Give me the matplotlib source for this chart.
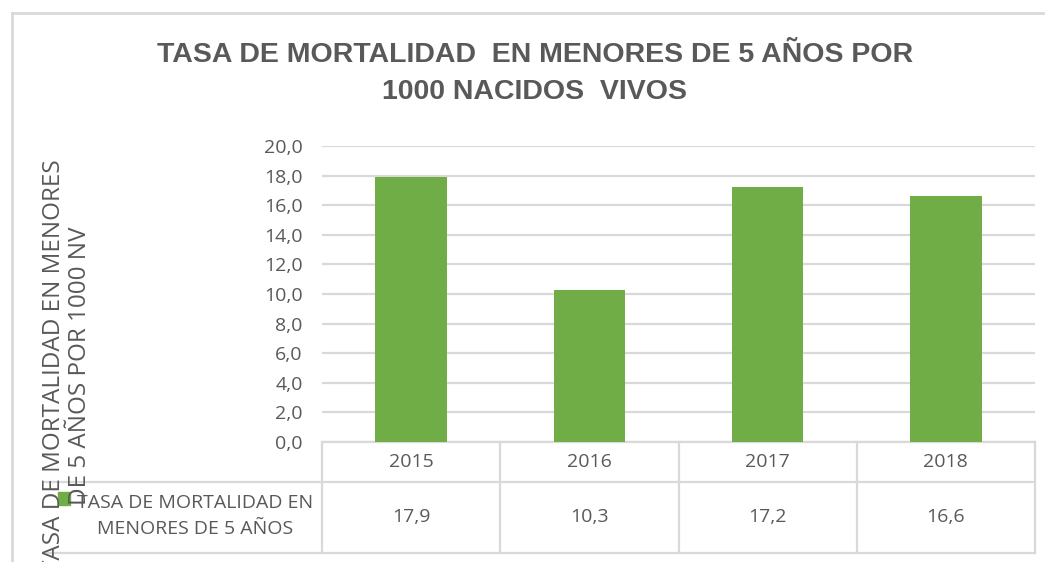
import matplotlib.pyplot as plt
import matplotlib.transforms as mtransforms
from matplotlib.patches import Rectangle

# data
years = ['2015', '2016', '2017', '2018']
tasa = [17.9, 10.3, 17.2, 16.6]
tasa_labels = ['17,9', '10,3', '17,2', '16,6']
yticks = [0, 2, 4, 6, 8, 10, 12, 14, 16, 18, 20]

W, H = 1045, 562
green = '#70AD47'
grey_txt = '#595959'
line_c = '#D9D9D9'

fig = plt.figure(figsize=(W / 100, H / 100), dpi=100)

# overlay in pixel coordinates (y downwards)
ov = fig.add_axes([0, 0, 1, 1])
ov.set_xlim(0, W)
ov.set_ylim(H, 0)
ov.axis('off')

# main plot area
x0, x1, ytop, ybot = 322, 1035, 146, 442
ax = fig.add_axes([x0 / W, (H - ybot) / H, (x1 - x0) / W, (ybot - ytop) / H])
ax.bar(range(len(years)), tasa, width=0.4, color=green, zorder=3)
ax.set_xlim(-0.5, len(years) - 0.5)
ax.set_ylim(0, 20)
ax.set_yticks(yticks)
ax.set_yticklabels([f'{v:.1f}'.replace('.', ',') for v in yticks],
                   fontsize=14, color=grey_txt, family='Open Sans')
ax.tick_params(axis='y', length=0, pad=14)
ax.set_xticks([])
ax.grid(axis='y', color=line_c, lw=1.6, zorder=0)
for s in ax.spines.values():
    s.set_visible(False)
ax.patch.set_alpha(0)

# chart border
ov.plot([12, 12], [13, H], color=line_c, lw=2)
ov.plot([12, W], [13, 13], color=line_c, lw=2)

# title
title_kw = dict(ha='center', va='center', fontsize=20.5, fontweight='bold',
                color=grey_txt, family=['Liberation Sans', 'DejaVu Sans'])
ov.text(535, 55, 'TASA DE MORTALIDAD  EN MENORES DE 5 AÑOS POR', **title_kw)
ov.text(535, 92, '1000 NACIDOS  VIVOS', **title_kw)

# y label
ov.text(67, 366, 'TASA DE MORTALIDAD EN MENORES\nDE 5 AÑOS POR 1000 NV',
        rotation=90, ha='center', va='center', fontsize=17.5,
        color=grey_txt, family='Open Sans', linespacing=1.1)

# data table
bt = mtransforms.blended_transform_factory(ax.transData, ov.transData)
r0, r1, r2 = 442, 482, 553
ov.plot([x0, x1], [r0, r0], color=line_c, lw=1.6)
ov.plot([45, x1], [r1, r1], color=line_c, lw=1.6)
ov.plot([45, x1], [r2, r2], color=line_c, lw=1.6)
for k in range(len(years) + 1):
    ov.plot([k - 0.5, k - 0.5], [r0, r2], color=line_c, lw=1.6, transform=bt)
for i, (yr, lab) in enumerate(zip(years, tasa_labels)):
    ov.text(i, (r0 + r1) / 2, yr, ha='center', va='center', fontsize=14,
            color=grey_txt, family='Open Sans', transform=bt)
    ov.text(i, (r1 + r2) / 2, lab, ha='center', va='center', fontsize=14,
            color=grey_txt, family='Open Sans', transform=bt)

# legend key
ov.add_patch(Rectangle((58, 492), 12, 13, color=green))
ov.text(195, 516, 'TASA DE MORTALIDAD EN\nMENORES DE 5 AÑOS', ha='center',
        va='center', fontsize=14, color=grey_txt, family='Open Sans',
        linespacing=1.6)

fig.savefig('out.png', dpi=100)
